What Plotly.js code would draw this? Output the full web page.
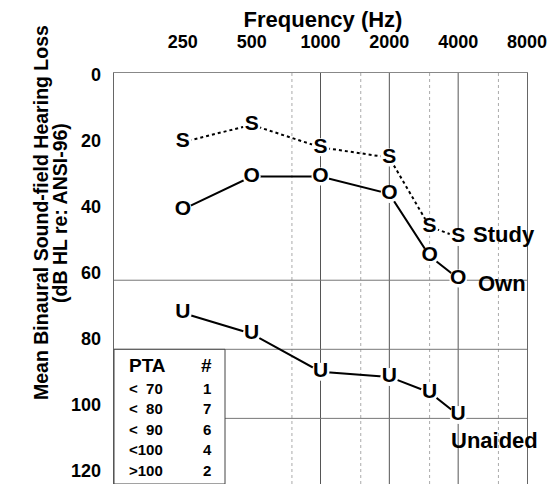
<!DOCTYPE html>
<html><head><meta charset="utf-8">
<script src="https://cdn.plot.ly/plotly-3.0.1.min.js"></script>
<style>html,body{margin:0;padding:0;background:#fff}#chart{width:550px;height:484px}</style>
</head><body><div id="chart"></div>
<script>
// ---- data ----
const freqs = [250, 500, 1000, 2000, 3000, 4000];
const study = [20, 15, 21.5, 24.5, 44.5, 47.5];
const own = [39.5, 30, 30, 35, 53, 59.5];
const unaided = [69.5, 75.5, 86.5, 88, 92.5, 99];
const tickFreqs = [250, 500, 1000, 2000, 4000, 8000];
const tickLabels = ['250', '500', '1000', '2000', '4000', '8000'];
const dbTicks = [0, 20, 40, 60, 80, 100, 120];
const solidGridFreqs = [1000, 2000, 4000];
const dottedGridFreqs = [750, 1500, 3000, 6000];
const dbGrid = [60, 80, 100];
const ptaRanges = ['<\u00a0\u00a070', '<\u00a0\u00a080', '<\u00a0\u00a090', '<100', '>100'];
const ptaCounts = ['1', '7', '6', '4', '2'];

// ---- layout helpers (pixel -> paper) ----
const L = 114, R = 527, T = 73, B = 484;
const px = x => (x - L) / (R - L);
const py = y => (B - y) / (B - T);
const X_MIN = 125, X_MAX = 8000, Y_MAX = 119;
const font = 'Liberation Sans, Arial, Helvetica, sans-serif';

function vlines(fs) { const x = [], y = []; fs.forEach(f => { x.push(f, f, null); y.push(0, Y_MAX, null); }); return {x, y}; }
function hlines(ds) { const x = [], y = []; ds.forEach(d => { x.push(X_MIN, X_MAX, null); y.push(d, d, null); }); return {x, y}; }

const vs = vlines(solidGridFreqs), vd = vlines(dottedGridFreqs), hs = hlines(dbGrid);
const gridTrace = (g, color, dash, w) => ({x: g.x, y: g.y, mode: 'lines', line: {color, dash, width: w}, hoverinfo: 'skip', showlegend: false, connectgaps: false});

function series(vals, letter, dash) {
  return {
    x: freqs, y: vals, mode: 'lines+markers+text',
    text: vals.map(() => letter), textposition: 'middle center',
    textfont: {family: font, size: 21, weight: 'bold', color: '#000'},
    marker: {size: 18, color: '#fff', line: {width: 0}},
    line: {color: '#000', width: 2, dash},
    hoverinfo: 'skip', showlegend: false, cliponaxis: false
  };
}

const traces = [
  gridTrace(vd, '#aaa', 'dot', 1),
  gridTrace(vs, '#555', 'solid', 1),
  gridTrace(hs, '#777', 'solid', 1),
  series(study, 'S', 'dot'),
  series(own, 'O', 'solid'),
  series(unaided, 'U', 'solid'),
  {x: [tickFreqs[0]], y: [dbTicks[0]], yaxis: 'y2', mode: 'markers', marker: {opacity: 0}, hoverinfo: 'skip', showlegend: false}
];

const annotations = [];
const ann = (text, x, y, size, xanchor, extra) => Object.assign({
  text, xref: 'paper', yref: 'paper', x, y, xanchor, yanchor: 'middle',
  showarrow: false, font: {family: font, size, weight: 'bold', color: '#000'}
}, extra || {});

annotations.push(ann('Mean Binaural Sound-field Hearing Loss', px(41), py(213), 19.5, 'center', {textangle: -90}));
annotations.push(ann('(dB HL re: ANSI-96)', px(60), py(213), 19.5, 'center', {textangle: -90}));
annotations.push(ann('Study', px(471), py(235), 22, 'left'));
annotations.push(ann('Own', px(476), py(283), 22, 'left'));
annotations.push(ann('Unaided', px(449), py(440), 22, 'left'));
annotations.push(ann('PTA', px(127), py(365), 19, 'left'));
annotations.push(ann('#', px(206), py(365), 19, 'center'));
ptaRanges.forEach((r, i) => {
  annotations.push(ann(r, px(127), py(388 + i * 20.5), 15, 'left'));
  annotations.push(ann(ptaCounts[i], px(207), py(388 + i * 20.5), 15, 'center'));
});

const layout = {
  width: 550, height: 484,
  margin: {l: L, r: 550 - R, t: T, b: 0, pad: 0},
  paper_bgcolor: '#fff', plot_bgcolor: '#fff',
  showlegend: false,
  font: {family: font, color: '#000'},
  title: {text: 'Frequency (Hz)', font: {family: font, size: 22, weight: 'bold', color: '#000'},
          x: 323 / 550, xanchor: 'center', y: (484 - 19) / 484, yanchor: 'middle', xref: 'container', yref: 'container'},
  xaxis: {type: 'log', range: [Math.log10(X_MIN), Math.log10(X_MAX)], side: 'top',
          tickvals: tickFreqs, ticktext: tickLabels, ticks: '', showgrid: false, zeroline: false,
          showline: true, mirror: false, linecolor: '#888', linewidth: 1,
          tickfont: {family: font, size: 18, weight: 'bold', color: '#000'}, ticklabelstandoff: 17, fixedrange: true},
  yaxis: {range: [Y_MAX, 0], showgrid: false, zeroline: false, showticklabels: false, ticks: '',
          showline: true, mirror: true, linecolor: '#666', linewidth: 1, fixedrange: true},
  yaxis2: {overlaying: 'y', side: 'left', range: [123.94, -0.606], tickvals: dbTicks,
           showgrid: false, zeroline: false, showline: false, ticks: '',
           tickfont: {family: font, size: 18, weight: 'bold', color: '#000'}, ticklabelstandoff: 12, fixedrange: true},
  shapes: [{type: 'rect', xref: 'paper', yref: 'y', x0: 0, x1: px(225), y0: 80, y1: Y_MAX,
            fillcolor: '#fff', line: {color: '#444', width: 1}, layer: 'above'}],
  annotations
};

Plotly.newPlot('chart', traces, layout, {displayModeBar: false, staticPlot: true});
</script></body></html>
